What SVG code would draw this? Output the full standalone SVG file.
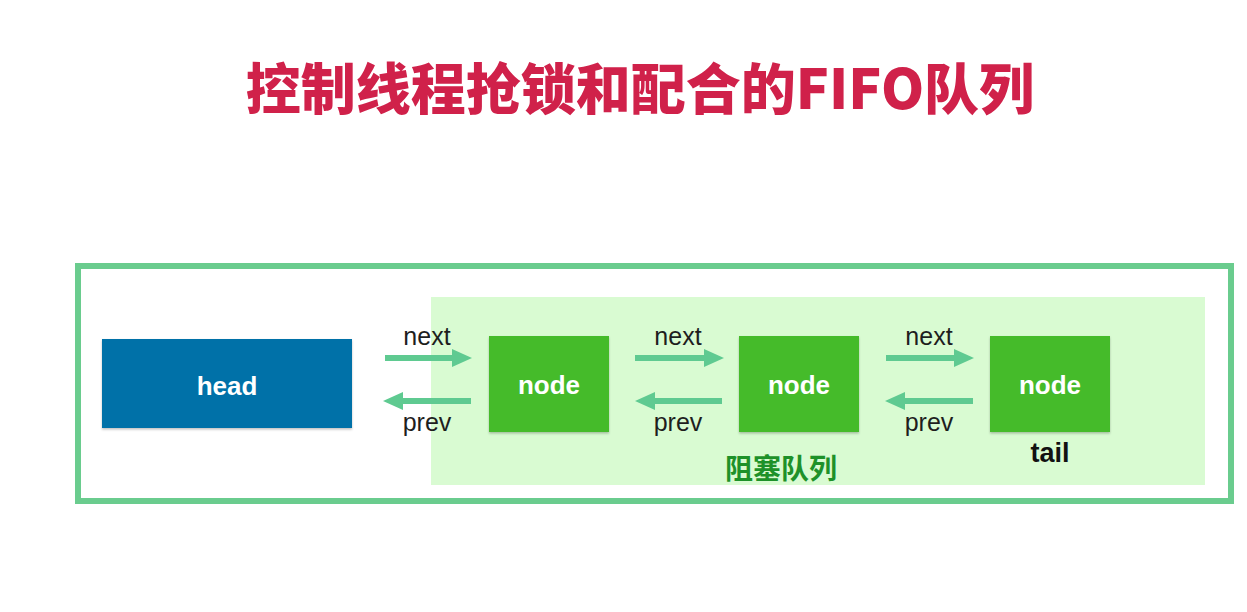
<svg xmlns="http://www.w3.org/2000/svg" width="1247" height="612" viewBox="0 0 1247 612">
  <defs>
    <style>
      .title { font-family: "Noto Sans CJK SC", "Liberation Sans", sans-serif; font-weight: 900; font-size: 55px; fill: #d0214a; }
      .lbl { font-family: "Liberation Sans", Arial, sans-serif; font-size: 25px; fill: #1e1e1e; text-anchor: middle; }
      .box-text { font-family: "Liberation Sans", Arial, sans-serif; font-weight: bold; font-size: 26px; fill: #ffffff; text-anchor: middle; }
      .node-rect { fill: #45bb29; }
      .arrow { stroke: #5fca91; stroke-width: 6; fill: none; }
      .head { fill: #5fca91; }
    </style>
    <filter id="sh" x="-10%" y="-10%" width="120%" height="130%">
      <feDropShadow dx="0" dy="1.5" stdDeviation="1.2" flood-color="#000" flood-opacity="0.25"/>
    </filter>
  </defs>
  <rect width="1247" height="612" fill="#ffffff"/>

  <text class="title" x="640" y="109" text-anchor="middle">控制线程抢锁和配合的FIFO队列</text>

  <g id="frame">
    <rect x="78" y="266" width="1153" height="235" fill="none" stroke="#6acc8e" stroke-width="6"/>
  </g>

  <g id="blocking-queue">
    <rect x="431" y="297" width="774" height="188" fill="#d9fbd2"/>
    <text x="781" y="479" text-anchor="middle" font-family="Noto Sans CJK SC, sans-serif" font-weight="bold" font-size="28" fill="#1e9129">阻塞队列</text>
  </g>

  <g id="head">
    <rect x="102" y="339" width="250" height="89" fill="#0071a8" filter="url(#sh)"/>
    <text class="box-text" x="227" y="395">head</text>
  </g>

  <g id="node1">
    <rect class="node-rect" x="489" y="336" width="120" height="96" filter="url(#sh)"/>
    <text class="box-text" x="549" y="394">node</text>
  </g>
  <g id="node2">
    <rect class="node-rect" x="739" y="336" width="120" height="96" filter="url(#sh)"/>
    <text class="box-text" x="799" y="394">node</text>
  </g>
  <g id="node3">
    <rect class="node-rect" x="990" y="336" width="120" height="96" filter="url(#sh)"/>
    <text class="box-text" x="1050" y="394">node</text>
    <text x="1050" y="462" text-anchor="middle" font-family="Liberation Sans, Arial, sans-serif" font-weight="bold" font-size="27" fill="#111">tail</text>
  </g>

  <g id="connectors">
    <line class="arrow" x1="385" y1="358" x2="454" y2="358"/>
    <polygon class="head" points="452,349 472,358 452,367"/>
    <line class="arrow" x1="471" y1="401" x2="401" y2="401"/>
    <polygon class="head" points="403,392 383,401 403,410"/>

    <line class="arrow" x1="635" y1="358" x2="706" y2="358"/>
    <polygon class="head" points="704,349 724,358 704,367"/>
    <line class="arrow" x1="722" y1="401" x2="653" y2="401"/>
    <polygon class="head" points="655,392 635,401 655,410"/>

    <line class="arrow" x1="886" y1="358" x2="956" y2="358"/>
    <polygon class="head" points="954,349 974,358 954,367"/>
    <line class="arrow" x1="973" y1="401" x2="903" y2="401"/>
    <polygon class="head" points="905,392 885,401 905,410"/>

    <text class="lbl" x="427" y="345">next</text>
    <text class="lbl" x="427" y="431">prev</text>
    <text class="lbl" x="678" y="345">next</text>
    <text class="lbl" x="678" y="431">prev</text>
    <text class="lbl" x="929" y="345">next</text>
    <text class="lbl" x="929" y="431">prev</text>
  </g>
</svg>
